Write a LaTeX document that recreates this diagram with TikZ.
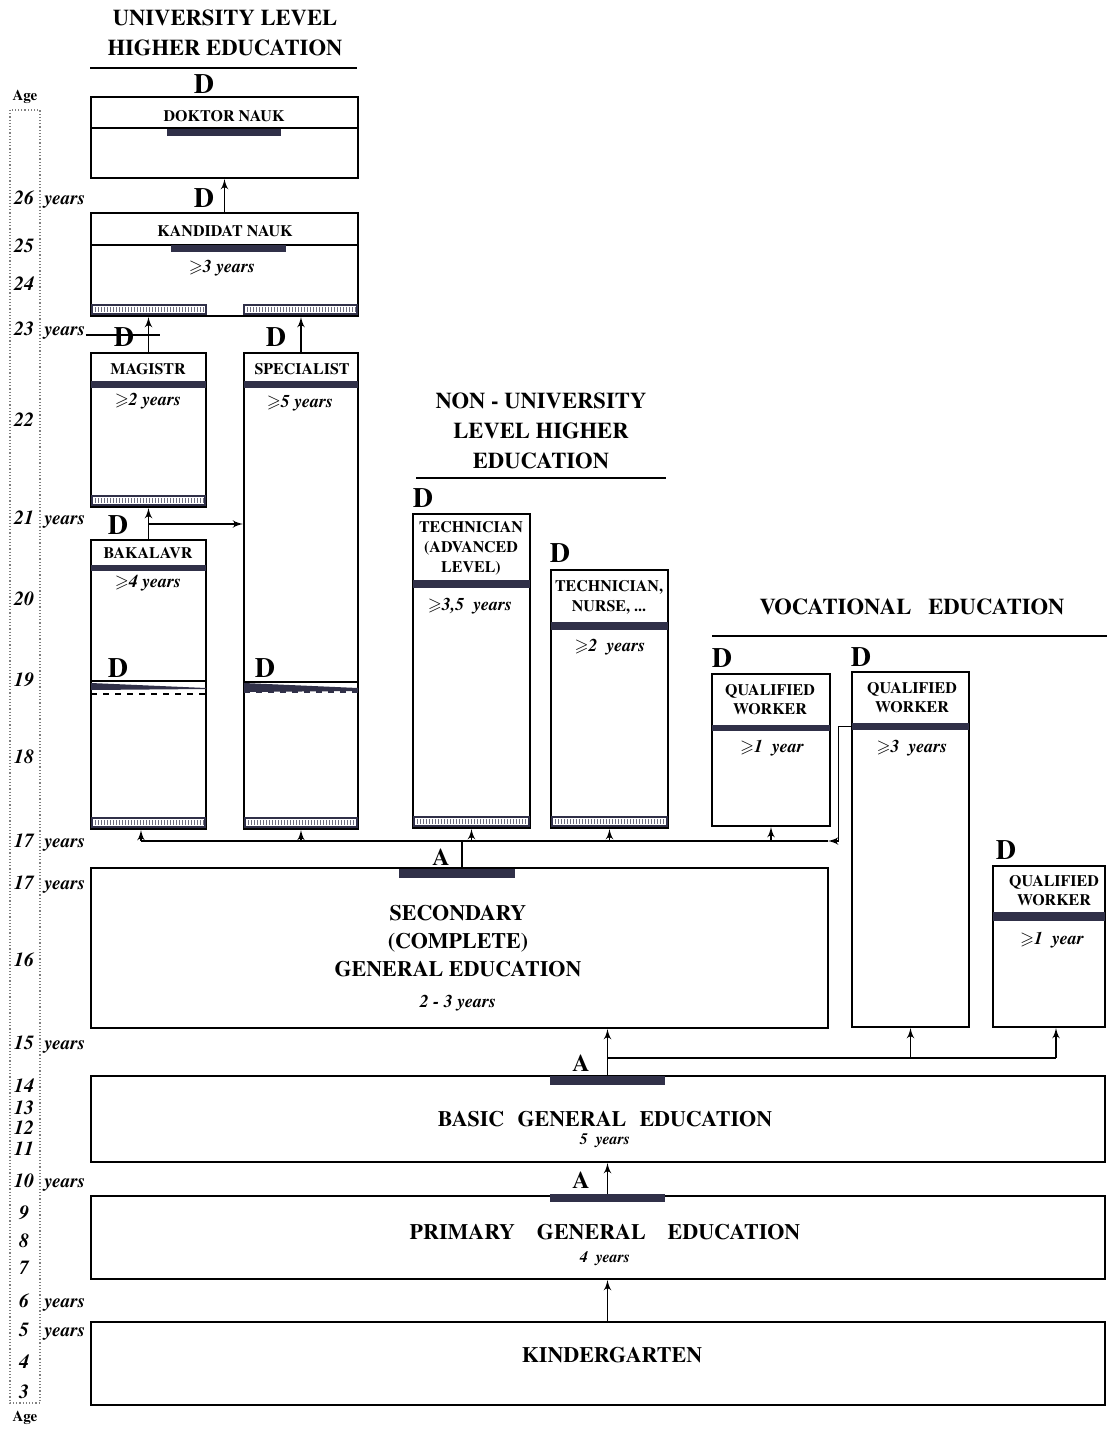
\documentclass[tikz,border=0pt]{standalone}
\usepackage{amssymb}
\usepackage{fontspec}
\setmainfont{texgyretermes}[Extension=.otf, UprightFont=*-regular, BoldFont=*-bold,
  ItalicFont=*-italic, BoldItalicFont=*-bolditalic]
\usetikzlibrary{arrows,fit,calc}
\definecolor{barcol}{RGB}{48,48,72}

\newcommand{\atleast}{\ensuremath{\geqslant}}

% white bar with small ticks at the foot of a box
\newcommand{\hatchbar}[3]{%
  \draw[hatchframe] (#1,#3) rectangle (#2,#3+9);
  \pgfmathsetmacro{\hfirst}{#1+3}%
  \pgfmathsetmacro{\hsecond}{#1+6}%
  \pgfmathsetmacro{\hlast}{#2-2}%
  \foreach \hx in {\hfirst,\hsecond,...,\hlast}
    \draw[hatchtick] (\hx,#3+2) -- (\hx,#3+7);}

\begin{document}
\begin{tikzpicture}[x=0.5pt,y=-0.5pt]
          \tikzset{
            sbox/.style={draw, line width=1pt, inner sep=0pt},
            darkbar/.style={fill=barcol, draw=none, inner sep=0pt},
            hatchframe/.style={draw=barcol, fill=white, line width=0.6pt},
            hatchtick/.style={draw=barcol!70, line width=0.35pt},
            link/.style={->,> = latex', line width=0.8pt},
            plain/.style={line width=0.8pt},
            thinrule/.style={line width=0.6pt},
            title/.style={font=\bfseries\fontsize{11.3}{15}\selectfont, align=center},
            level/.style={font=\bfseries\fontsize{11}{14}\selectfont, align=center},
            btitle/.style={font=\bfseries\fontsize{8}{10}\selectfont, align=center, inner sep=0pt},
            dur/.style={font=\bfseries\itshape\fontsize{9}{10}\selectfont},
            subdur/.style={font=\bfseries\itshape\fontsize{8}{9}\selectfont, inner sep=0pt, anchor=base},
            dlab/.style={font=\bfseries\fontsize{14}{14}\selectfont},
            alab/.style={font=\bfseries\fontsize{12}{12}\selectfont},
            agenum/.style={font=\bfseries\itshape\fontsize{10}{10}\selectfont, anchor=base, inner sep=0pt},
            ageyrs/.style={font=\bfseries\itshape\fontsize{9.5}{10}\selectfont, anchor=base west, inner sep=0pt},
            agetag/.style={font=\bfseries\fontsize{7.5}{8}\selectfont}
          }
          \useasboundingbox (0,0) rectangle (1107,1429);

          % age scale
          \draw[densely dotted, thinrule, gray] (10,110) rectangle (40,1403);
          \node[agetag] (age-top) at (25,97) {Age};
          \node[agetag] (age-bot) at (25,1418) {Age};
          \foreach \a/\y in {26/197,25/245,24/283,23/328,22/419,21/517,20/598,19/679,
                             18/756,17/840,17/882,16/959,15/1042,14/1085,13/1107,12/1127,
                             11/1148,10/1180,9/1212,8/1240,7/1267,6/1300,5/1329,4/1361,3/1391}
            \node[agenum] (age-\y) at (24,\y+7) {\a};
          \foreach \y in {197,328,517,840,882,1042,1180,1300,1329}
            \node[ageyrs] (yrs-\y) at (44,\y+7) {years};
          \draw[thinrule] (yrs-328.base east) -- (160,335);

          % university level
          \node[title] (uni-t) at (225,33) {UNIVERSITY LEVEL\\HIGHER EDUCATION};
          \draw[plain] (90,68) -- (357,68);

          \node[sbox, fit={(91,97)(358,178)}] (doktor) {};
          \draw[thinrule] (doktor.west |- 0,128) -- (doktor.east |- 0,128);
          \node[darkbar, fit={(167,129)(281,136)}] (doktor-bar) {};
          \node[btitle] (doktor-t) at (224,116) {DOKTOR NAUK};
          \node[dlab] (d-doktor) at (204,84) {D};

          \node[sbox, fit={(91,213)(358,316)}] (kandidat) {};
          \draw[thinrule] (kandidat.west |- 0,245) -- (kandidat.east |- 0,245);
          \node[darkbar, fit={(171,245)(286,252)}] (kandidat-bar) {};
          \node[btitle] (kandidat-t) at (225,231) {KANDIDAT NAUK};
          \node[dur] (kandidat-d) at (222,268) {\atleast3 years};
          \node[dlab] (d-kandidat) at (204,198) {D};
          \hatchbar{92}{206}{305}
          \hatchbar{244}{357}{305}

          \node[sbox, fit={(91,353)(206,507)}] (magistr) {};
          \node[darkbar, fit={(91,381)(206,388)}] (magistr-bar) {};
          \node[btitle] (magistr-t) at (148,369) {MAGISTR};
          \node[dur] (magistr-d) at (148,401) {\atleast2 years};
          \node[dlab] (d-magistr) at (124,337) {D};
          \hatchbar{92}{205}{496}

          \node[sbox, fit={(244,353)(358,829)}] (specialist) {};
          \node[darkbar, fit={(244,381)(358,388)}] (specialist-bar) {};
          \node[btitle] (specialist-t) at (302,369) {SPECIALIST};
          \node[dur] (specialist-d) at (300,403) {\atleast5 years};
          \node[dlab] (d-specialist) at (276,337) {D};
          \node[dlab] (d-specialist2) at (265,668) {D};
          \draw[thinrule] (244,682) -- (358,682);
          \fill[barcol] (244,683) -- (358,688) -- (358,691) -- (244,692) -- cycle;
          \draw[dashed, line width=0.9pt, barcol] (244,692) -- (358,692);
          \hatchbar{245}{357}{818}

          \node[sbox, fit={(91,540)(206,829)}] (bakalavr) {};
          \node[darkbar, fit={(91,565)(206,571)}] (bakalavr-bar) {};
          \node[btitle] (bakalavr-t) at (148,553) {BAKALAVR};
          \node[dur] (bakalavr-d) at (148,583) {\atleast4 years};
          \node[dlab] (d-bakalavr) at (118,525) {D};
          \node[dlab] (d-bakalavr2) at (118,668) {D};
          \draw[thinrule] (91,681) -- (206,681);
          \fill[barcol] (91,683) -- (206,688) -- (206,689) -- (91,690) -- cycle;
          \draw[dashed, line width=0.9pt] (91,694) -- (206,694);
          \hatchbar{92}{205}{818}

          % non-university level
          \node[title] (nonuni-t) at (541,430.5) {NON - UNIVERSITY\\LEVEL HIGHER\\EDUCATION};
          \draw[plain] (416,478) -- (666,478);

          \node[sbox, fit={(413,514)(530,828)}] (tech1) {};
          \node[darkbar, fit={(413,580)(530,588)}] (tech1-bar) {};
          \node[btitle] (tech1-t) at (471,548) {TECHNICIAN\\(ADVANCED\\LEVEL)};
          \node[dur] (tech1-d) at (470,606) {\atleast3,5\ \ years};
          \node[dlab] (d-tech1) at (423,498) {D};
          \hatchbar{414}{529}{817}

          \node[sbox, fit={(551,570)(668,828)}] (tech2) {};
          \node[darkbar, fit={(551,622)(668,630)}] (tech2-bar) {};
          \node[btitle] (tech2-t) at (609,597) {TECHNICIAN,\\NURSE, ...};
          \node[dur] (tech2-d) at (610,647) {\atleast2\ \ years};
          \node[dlab] (d-tech2) at (560,553) {D};
          \hatchbar{552}{667}{817}

          % vocational
          \node[title] (voc-t) at (912,607) {VOCATIONAL\ \ \ EDUCATION};
          \draw[plain] (712,636) -- (1107,636);

          \node[sbox, fit={(712,674)(830,826)}] (qw1) {};
          \node[darkbar, fit={(712,725)(830,731)}] (qw1-bar) {};
          \node[btitle, font=\bfseries\fontsize{8}{9.5}\selectfont] (qw1-t) at (770,699.5) {QUALIFIED\\WORKER};
          \node[dur] (qw1-d) at (772,748) {\atleast1\ \ year};
          \node[dlab] (d-qw1) at (722,658) {D};

          \node[sbox, fit={(852,672)(969,1027)}] (qw2) {};
          \node[darkbar, fit={(852,723)(969,730)}] (qw2-bar) {};
          \node[btitle, font=\bfseries\fontsize{8}{9.5}\selectfont] (qw2-t) at (912,697.5) {QUALIFIED\\WORKER};
          \node[dur] (qw2-d) at (912,748) {\atleast3\ \ years};
          \node[dlab] (d-qw2) at (861,657) {D};

          \node[sbox, fit={(993,866)(1105,1027)}] (qw3) {};
          \node[darkbar, fit={(993,912)(1105,921)}] (qw3-bar) {};
          \node[btitle, font=\bfseries\fontsize{8}{9.5}\selectfont] (qw3-t) at (1054,890.5) {QUALIFIED\\WORKER};
          \node[dur] (qw3-d) at (1052,940) {\atleast1\ \ year};
          \node[dlab] (d-qw3) at (1006,850) {D};

          % general education
          \node[sbox, fit={(91,868)(828,1028)}] (secondary) {};
          \node[darkbar, fit={(399,869)(515,878)}] (secondary-bar) {};
          \node[level] (secondary-t) at (458,941) {SECONDARY\\(COMPLETE)\\GENERAL EDUCATION};
          \node[dur] (secondary-d) at (458,1003) {2 - 3 years};
          \node[alab] (a-secondary) at (441,857) {A};

          \node[sbox, fit={(91,1076)(1105,1162)}] (basic) {};
          \node[darkbar, fit={(550,1076)(665,1085)}] (basic-bar) {};
          \node[level, anchor=base, inner sep=0pt] (basic-t) at (605,1126) {BASIC\hspace{0.6em}GENERAL\hspace{0.6em}EDUCATION};
          \node[subdur] (basic-d) at (605,1144) {5\ \ years};
          \node[alab] (a-basic) at (581,1063) {A};

          \node[sbox, fit={(91,1196)(1105,1279)}] (primary) {};
          \node[darkbar, fit={(550,1194)(665,1202)}] (primary-bar) {};
          \node[level, anchor=base, inner sep=0pt] (primary-t) at (605,1239) {PRIMARY\hspace{1em}GENERAL\hspace{1em}EDUCATION};
          \node[subdur] (primary-d) at (605,1262) {4\ \ years};
          \node[alab] (a-primary) at (581,1180) {A};

          \node[sbox, fit={(91,1322)(1105,1405)}] (kinder) {};
          \node[level] (kinder-t) at (612,1355) {KINDERGARTEN};

          % edges
          \draw[link] (kandidat.north) -- (doktor.south);
          \draw[link] (magistr.north) -- (magistr.north |- kandidat.south);
          \draw[link] (specialist.north) -- (specialist.north |- kandidat.south);
          \draw[link] (bakalavr.north) -- (magistr.south);
          \coordinate (bak-fork) at ($(bakalavr.north)+(0,-15)$);
          \draw[link] (bak-fork) -- (bak-fork -| specialist.west);

          \coordinate (bus-w) at (141,841);
          \coordinate (bus-e) at (828,841);
          \draw[link] (qw2-bar.west) -- ++(-13,0) |- (bus-e);
          \draw[plain] (bus-e) -- (bus-w);
          \draw[link] (bus-w) -- (bus-w |- bakalavr.south);
          \draw[link] (specialist.south |- bus-w) -- (specialist.south);
          \draw[link] (tech1.south |- bus-w) -- (tech1.south);
          \draw[link] (tech2.south |- bus-w) -- (tech2.south);
          \draw[link] (qw1.south |- bus-w) -- (qw1.south);
          \coordinate (sec-a) at (462,868);
          \draw[plain] (sec-a) -- (sec-a |- bus-w);

          \draw[link] (basic-bar.north) -- (basic-bar.north |- secondary.south);
          \coordinate (voc-fork) at (608,1058);
          \coordinate (qw3-in) at ($(qw3.south)+(7,0)$);
          \draw[plain] (voc-fork) -- (voc-fork -| qw3-in);
          \draw[link] (qw2.south |- voc-fork) -- (qw2.south);
          \draw[link] (qw3-in |- voc-fork) -- (qw3-in);
          \draw[link] (primary-bar.north) -- (primary-bar.north |- basic.south);
          \draw[link] (kinder.north -| primary-bar.north) -- (primary.south -| primary-bar.north);
\end{tikzpicture}
\end{document}
